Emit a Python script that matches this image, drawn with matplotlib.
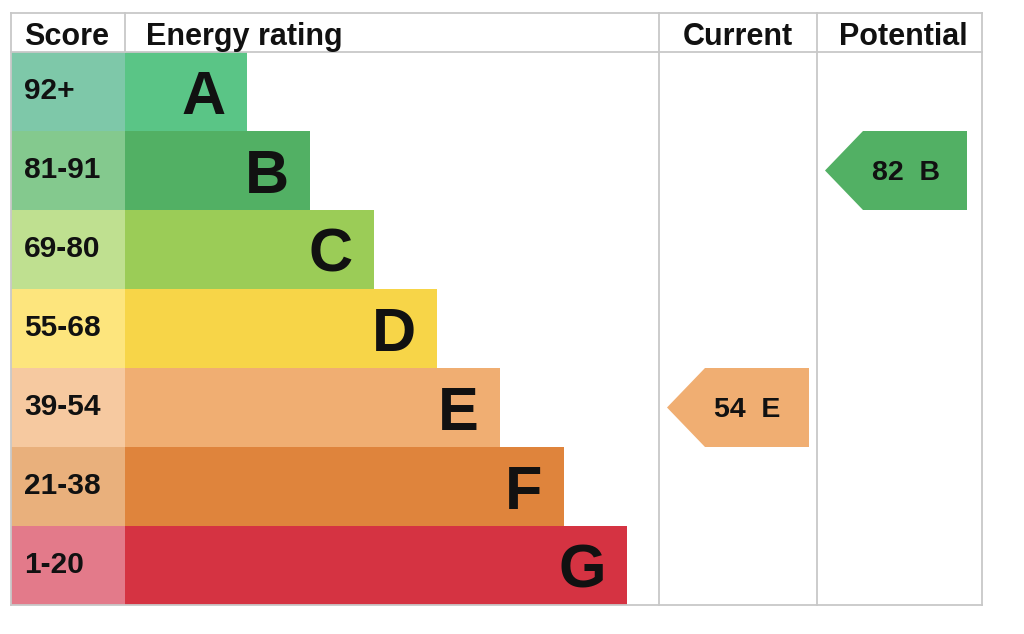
import matplotlib
matplotlib.use("Agg")
import matplotlib.pyplot as plt
from matplotlib.patches import Rectangle, Polygon

# ---- data ----
bands = ["A", "B", "C", "D", "E", "F", "G"]
score_ranges = ["92+", "81-91", "69-80", "55-68", "39-54", "21-38", "1-20"]
band_colors = ["#5ac586", "#52b064", "#9bcc57", "#f7d548", "#f0ae72", "#df843c", "#d53342"]
score_colors = ["#7ec8a9", "#84c98e", "#bfe090", "#fde57d", "#f6c9a0", "#e9b07c", "#e37a8a"]
band_lower = [92, 81, 69, 55, 39, 21, 1]
headers = ["Score", "Energy rating", "Current", "Potential"]
current_score = 54
potential_score = 82

plt.rcParams['font.family'] = ['Liberation Sans', 'DejaVu Sans']

fig = plt.figure(figsize=(10.24, 6.34), dpi=100)
ax = fig.add_axes([0, 0, 1, 1])
ax.set_xlim(0, 1024)
ax.set_ylim(634, 0)
ax.axis("off")

# layout (pixels)
left, right = 11, 982
top, head_bot = 13, 52
col_score_end = 125
col_cur = 659
col_pot = 817
row_h = 79.0
bar_base = 247
bar_step = 63.3
txt = "#111111"

def band_index(score):
    for i, lo in enumerate(band_lower):
        if score >= lo:
            return i
    return len(band_lower) - 1

for i, (b, sr) in enumerate(zip(bands, score_ranges)):
    y0 = head_bot + i * row_h
    ax.add_patch(Rectangle((left, y0), col_score_end - left, row_h,
                           facecolor=score_colors[i], edgecolor="none", zorder=1))
    bar_end = bar_base + i * bar_step
    ax.add_patch(Rectangle((col_score_end, y0), bar_end - col_score_end, row_h,
                           facecolor=band_colors[i], edgecolor="none", zorder=1))
    ax.text(24, y0 + 47, sr, fontsize=21.5, fontweight="bold",
            ha="left", va="baseline", color=txt, zorder=3)
    ax.text(bar_end - 21, y0 + 62, b, fontsize=44, fontweight="bold",
            ha="right", va="baseline", color=txt, zorder=3)

bottom = head_bot + len(bands) * row_h

# grid lines
gc = "#c8c8c8"
lw = 1.3
ax.plot([left, right], [top, top], color=gc, lw=lw, zorder=2)
ax.plot([left, right], [head_bot, head_bot], color=gc, lw=lw, zorder=2)
ax.plot([left, right], [bottom, bottom], color=gc, lw=lw, zorder=2)
ax.plot([left, left], [top, bottom], color=gc, lw=lw, zorder=2)
ax.plot([right, right], [top, bottom], color=gc, lw=lw, zorder=2)
ax.plot([col_score_end, col_score_end], [top, head_bot], color=gc, lw=lw, zorder=2)
ax.plot([col_cur, col_cur], [top, bottom], color=gc, lw=lw, zorder=2)
ax.plot([col_pot, col_pot], [top, bottom], color=gc, lw=lw, zorder=2)

# headers
hy = 45
hfs = 22
ax.text(24, hy, headers[0], fontsize=hfs, fontweight="bold", ha="left", va="baseline", color=txt)
ax.text(146, hy, headers[1], fontsize=hfs, fontweight="bold", ha="left", va="baseline", color=txt)
ax.text((col_cur + col_pot) / 2, hy, headers[2], fontsize=hfs, fontweight="bold", ha="center", va="baseline", color=txt)
ax.text((col_pot + right) / 2 + 4, hy, headers[3], fontsize=hfs, fontweight="bold", ha="center", va="baseline", color=txt)

def arrow(col_start, score):
    i = band_index(score)
    y0 = head_bot + i * row_h
    y1 = y0 + row_h
    x_tip = col_start + 8
    x_flat = col_start + 46
    x_end = col_start + 150
    poly = Polygon([(x_tip, (y0 + y1) / 2), (x_flat, y0), (x_end, y0),
                    (x_end, y1), (x_flat, y1)], closed=True,
                   facecolor=band_colors[i], edgecolor="none", zorder=2)
    ax.add_patch(poly)
    ax.text(col_start + 55, y0 + 49, f"{score}  {bands[i]}",
            fontsize=20.5, fontweight="bold", ha="left", va="baseline", color=txt, zorder=3)

arrow(col_cur, current_score)
arrow(col_pot, potential_score)

fig.savefig("out.png", dpi=100)
